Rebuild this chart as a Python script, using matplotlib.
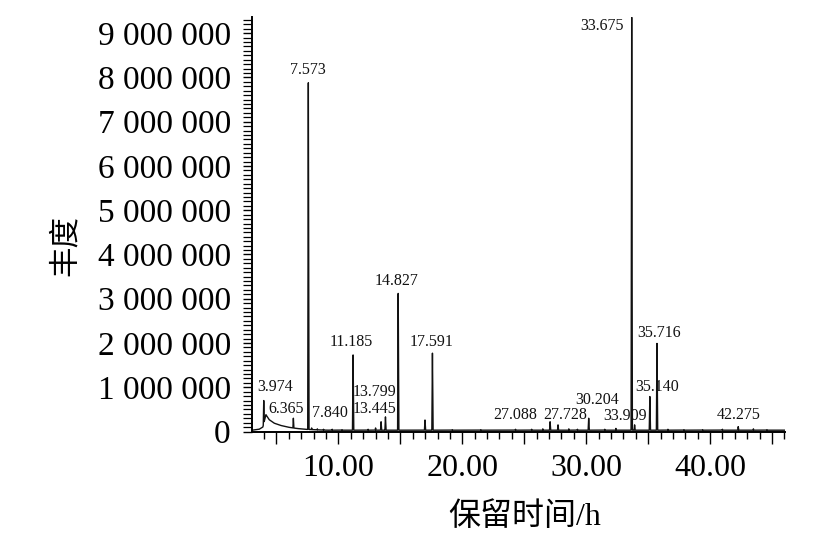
import numpy as np
import matplotlib
matplotlib.use("Agg")
import matplotlib.pyplot as plt
from matplotlib.ticker import MultipleLocator

plt.rcParams['font.family'] = ['Liberation Serif', 'DejaVu Serif', 'Noto Sans CJK SC']

# labelled peaks: retention time and abundance
peak_rt = [3.974, 6.365, 7.573, 7.840, 11.185, 13.445, 13.799, 14.827, 17.591,
           27.088, 27.728, 30.204, 33.675, 33.909, 35.140, 35.716, 42.275]
peak_h = [0.70e6, 0.30e6, 7.88e6, 0.08e6, 1.73e6, 0.22e6, 0.33e6, 3.12e6, 1.77e6,
          0.22e6, 0.15e6, 0.30e6, 9.36e6, 0.15e6, 0.79e6, 1.99e6, 0.11e6]

# small unlabelled peaks
minor_rt = [8.3, 8.8, 9.5, 10.3, 12.4, 13.0, 16.99, 19.2, 21.5, 24.3, 25.6, 26.5,
            28.6, 29.3, 31.5, 32.4, 36.6, 37.9, 39.4, 41.0, 43.5, 44.6]
minor_h = [0.06e6, 0.05e6, 0.05e6, 0.04e6, 0.05e6, 0.08e6, 0.26e6, 0.04e6, 0.04e6,
           0.05e6, 0.05e6, 0.06e6, 0.06e6, 0.05e6, 0.05e6, 0.07e6, 0.05e6, 0.04e6,
           0.04e6, 0.05e6, 0.06e6, 0.04e6]

# solvent tail after the first peak
tail_x = [3.05, 3.6, 3.9, 4.15, 4.4, 4.8, 5.3, 5.9, 6.6, 7.3, 9.0, 46.05]
tail_y = [0.03e6, 0.05e6, 0.10e6, 0.38e6, 0.27e6, 0.19e6, 0.14e6, 0.10e6, 0.07e6, 0.05e6, 0.03e6, 0.03e6]

yticks = [0, 1e6, 2e6, 3e6, 4e6, 5e6, 6e6, 7e6, 8e6, 9e6]
ytick_labels = ['0'] + ['%d 000 000' % i for i in range(1, 10)]
xticks = [5, 10, 15, 20, 25, 30, 35, 40, 45]
xtick_labels = ['', '10.00', '', '20.00', '', '30.00', '', '40.00', '']

# label anchor (x, y) for every labelled peak, data units
label_pos = [(4.86, 1.00e6), (5.79, 0.50e6), (7.57, 8.16e6), (9.35, 0.41e6),
             (11.02, 2.03e6), (12.95, 0.50e6), (12.95, 0.90e6), (14.66, 3.39e6),
             (17.55, 2.03e6), (24.25, 0.38e6), (28.29, 0.38e6), (30.91, 0.71e6),
             (31.29, 9.17e6), (33.17, 0.36e6), (35.75, 1.01e6), (35.86, 2.23e6),
             (42.33, 0.37e6)]

x = np.union1d(np.arange(3.05, 46.05, 0.004), peak_rt + minor_rt)
y = np.interp(x, tail_x, tail_y)
for rt, h in zip(peak_rt + minor_rt, peak_h + minor_h):
    y = np.maximum(y, h * np.clip(1 - np.abs(x - rt) / 0.05, 0, None))

fig = plt.figure(figsize=(8.36, 5.54), dpi=100)
ax = fig.add_axes([0.3018, 0.2211, 0.6372, 0.7477])
ax.plot(x, y, color='#111111', lw=1.0)

for rt, (lx, ly) in zip(peak_rt, label_pos):
    ax.text(lx, ly, '%.3f' % rt, fontsize=11.5, ha='center', va='center', color='#111111')

ax.set_xlim(3.05, 46.05)
ax.set_ylim(0, 9.36e6)
ax.set_xticks(xticks)
ax.set_xticklabels(xtick_labels)
ax.xaxis.set_minor_locator(MultipleLocator(1))
ax.set_yticks(yticks)
ax.set_yticklabels(ytick_labels)
ax.yaxis.set_minor_locator(MultipleLocator(1e5))

ax.tick_params(axis='x', which='major', direction='out', length=8.5, width=1.0, labelsize=23, pad=8)
ax.tick_params(axis='x', which='minor', direction='out', length=5, width=1.0)
ax.tick_params(axis='y', which='major', direction='out', length=6.5, width=1.0, labelsize=24, pad=9)
ax.tick_params(axis='y', which='minor', direction='out', length=6.5, width=0.9)

for s in ['top', 'right']:
    ax.spines[s].set_visible(False)
for s in ['left', 'bottom']:
    ax.spines[s].set_linewidth(1.4)

ax.set_xlabel('保留时间/h', fontsize=23, va='center', fontweight='light')
ax.xaxis.set_label_coords(0.512, -0.206)
ax.set_ylabel('丰度', fontsize=22, va='center', fontweight='light')
ax.yaxis.set_label_coords(-0.35, 0.45)

fig.savefig('out.png', dpi=100)
